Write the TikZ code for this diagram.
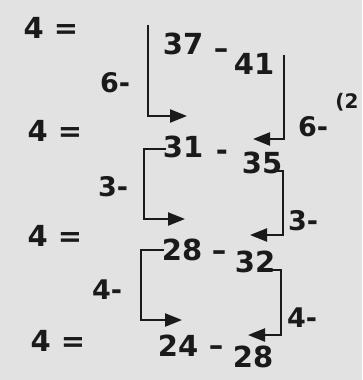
\documentclass[tikz,border=0pt]{standalone}
\usepackage{fontspec}
\setmainfont{DejaVu Sans}
\usetikzlibrary{arrows.meta}
\definecolor{paper}{HTML}{E2E2E2}
\definecolor{ink}{HTML}{1A1A1A}
\tikzset{
    numtext/.style={font=\fontsize{29}{31}\selectfont\bfseries, text=ink, inner sep=0pt},
    steplabel/.style={font=\fontsize{27}{29}\selectfont\bfseries, text=ink, inner sep=0pt},
    bracket/.style={draw=ink, line width=2.2pt, -{Triangle[length=17pt, width=13pt]}},
}

\begin{document}
\begin{tikzpicture}[x=1pt, y=-1pt]
\fill[paper] (0,0) rectangle (362,380);
\useasboundingbox (0,0) rectangle (362,380);

% ===================== LEFT COLUMN: 4 = =====================
\node[numtext] (eq1) at (51,28) {4 =};
\node[numtext] (eq2) at (55,131) {4 =};
\node[numtext] (eq3) at (55,236) {4 =};
\node[numtext] (eq4) at (58,341) {4 =};

% ===================== RANGES =====================
\node[numtext] (n37) at (183,44) {37};
\node[numtext] (d1) at (221,54) {--};
\node[numtext] (n41) at (254,64) {41};

\node[numtext] (n31) at (183,147) {31};
\node[numtext] (d2) at (222,155) {-};
\node[numtext] (n35) at (262,163) {35};

\node[numtext] (n28a) at (182,250) {28};
\node[numtext] (d3) at (219,256) {--};
\node[numtext] (n32) at (255,262) {32};

\node[numtext] (n24) at (178,346) {24};
\node[numtext] (d4) at (216,351) {--};
\node[numtext] (n28b) at (253,357) {28};

% ===================== STEP LABELS =====================
\node[steplabel] (sixl) at (115,83) {6-};
\node[steplabel] (sixr) at (313,127) {6-};
\node[steplabel] (threel) at (113,187) {3-};
\node[steplabel] (threer) at (303,221) {3-};
\node[steplabel] (fourl) at (107,290) {4-};
\node[steplabel] (fourr) at (302,318) {4-};
\node[steplabel, font=\fontsize{20}{22}\selectfont\bfseries] (tag) at (347,102) {(2};

% ===================== BRACKETS =====================
\coordinate (l1s) at (148,25);
\coordinate (l1e) at (187,116);
\coordinate (r1s) at (284,55);
\coordinate (r1e) at (253,139);
\draw[bracket] (l1s) |- (l1e);
\draw[bracket] (r1s) |- (r1e);

\coordinate (l2s) at (166,149);
\coordinate (l2e) at (185,219);
\coordinate (r2s) at (271,171);
\coordinate (r2e) at (250,235);
\draw[bracket] (l2s) -- ++(-22,0) |- (l2e);
\draw[bracket] (r2s) -- ++(12,0) |- (r2e);

\coordinate (l3s) at (164,250);
\coordinate (l3e) at (182,320);
\coordinate (r3s) at (270,270);
\coordinate (r3e) at (248,335);
\draw[bracket] (l3s) -- ++(-23,0) |- (l3e);
\draw[bracket] (r3s) -- ++(11,0) |- (r3e);

\end{tikzpicture}
\end{document}
